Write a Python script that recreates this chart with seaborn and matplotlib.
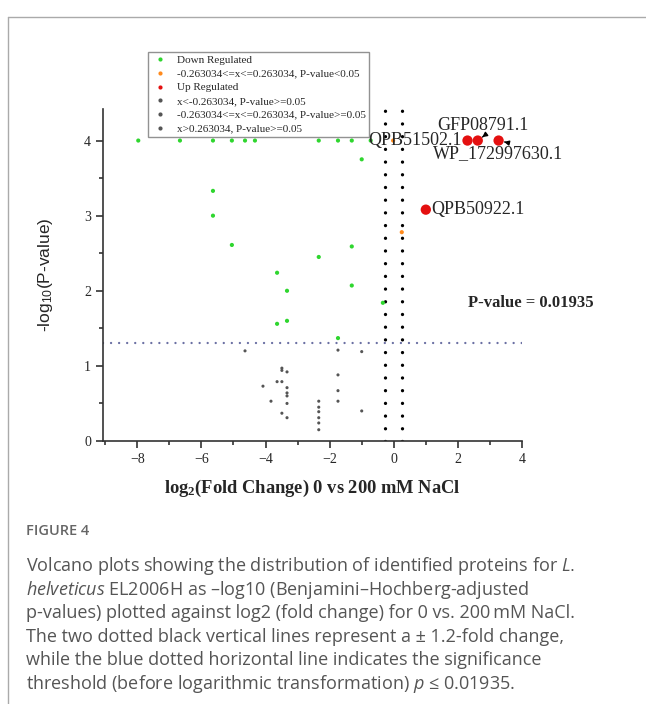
import matplotlib
matplotlib.use("Agg")
import matplotlib.pyplot as plt
import seaborn as sns
import pandas as pd
from matplotlib.lines import Line2D

# data
down_x = [-7.97, -6.67, -5.64, -5.05, -4.64, -4.33, -2.34, -1.74, -1.31, -0.72,
          -1.0, -5.64, -5.64, -5.05, -2.34, -1.31, -3.64, -3.33, -1.31, -0.34,
          -1.74, -3.64, -3.33]
down_y = [4, 4, 4, 4, 4, 4, 4, 4, 4, 4,
          3.75, 3.33, 3.0, 2.61, 2.45, 2.59, 2.24, 2.0, 2.07, 1.84,
          1.37, 1.56, 1.6]
mid_x = [-0.02, 0.25]
mid_y = [4.0, 2.78]
up_x = [2.3, 2.62, 3.27, 1.0]
up_y = [4.0, 4.0, 4.0, 3.08]
up_names = ["QPB51502.1", "GFP08791.1", "WP_172997630.1", "QPB50922.1"]
ns_x = [-4.64, -3.49, -3.49, -3.33, -4.08, -3.64, -3.49, -3.33, -3.33, -3.33,
        -3.33, -3.83, -3.49, -3.33, -2.34, -2.34, -2.34, -2.34, -2.34, -2.34,
        -1.74, -1.0, -1.74, -1.74, -1.74, -1.0]
ns_y = [1.2, 0.97, 0.94, 0.92, 0.73, 0.79, 0.79, 0.71, 0.64, 0.6,
        0.5, 0.53, 0.37, 0.31, 0.53, 0.45, 0.39, 0.31, 0.24, 0.15,
        1.21, 1.19, 0.88, 0.67, 0.53, 0.4]

fc = 0.263034
p_cut = 1.3
p_text = "P-value = 0.01935"

groups = ["Down Regulated",
          "-0.263034<=x<=0.263034, P-value<0.05",
          "Up Regulated",
          "x<-0.263034, P-value>=0.05",
          "-0.263034<=x<=0.263034, P-value>=0.05",
          "x>0.263034, P-value>=0.05"]
colors = ["#2fd62f", "#ff8a1c", "#e41010", "#555555", "#555555", "#555555"]

df = pd.concat([
    pd.DataFrame({"x": down_x, "y": down_y, "g": groups[0]}),
    pd.DataFrame({"x": mid_x, "y": mid_y, "g": groups[1]}),
    pd.DataFrame({"x": up_x, "y": up_y, "g": groups[2]}),
    pd.DataFrame({"x": ns_x, "y": ns_y, "g": groups[3]}),
])

sns.set_style("ticks")
plt.rcParams["mathtext.fontset"] = "custom"
plt.rcParams["mathtext.rm"] = "Liberation Sans"
plt.rcParams["mathtext.bf"] = "Liberation Serif:bold"
plt.rcParams["mathtext.it"] = "Open Sans:italic"
plt.rcParams["font.family"] = ["Liberation Serif", "DejaVu Sans"]

fig = plt.figure(figsize=(6.46, 7.04), dpi=100)
ax = fig.add_axes([103 / 646, 1 - 441 / 704, 419 / 646, 332 / 704])

sizes = {groups[0]: 9, groups[1]: 9, groups[2]: 55, groups[3]: 5}
for g, c in zip(groups, colors):
    sub = df[df["g"] == g]
    if len(sub):
        sns.scatterplot(data=sub, x="x", y="y", color=c, s=sizes[g],
                        edgecolor="none", ax=ax, legend=False, zorder=3)

# dotted threshold lines
ax.axvline(-fc, color="black", lw=2.4, ls=(0, (0.01, 3.8)), dash_capstyle="round", zorder=2)
ax.axvline(fc, color="black", lw=2.4, ls=(0, (0.01, 3.8)), dash_capstyle="round", zorder=2)
ax.axhline(p_cut, color="#6b70a3", lw=1.7, ls=(0, (0.01, 3.4)), dash_capstyle="round", zorder=2)
ax.text(2.3, 1.84, p_text, fontsize=12, fontweight="bold", ha="left", va="center",
        clip_on=False)

# protein labels
lab_kw = dict(fontsize=13, textcoords="offset points", annotation_clip=False)
arw = dict(arrowstyle="-|>", color="black", lw=1, mutation_scale=7, shrinkA=0, shrinkB=4)
ax.annotate(up_names[0], xy=(up_x[0], up_y[0]), xytext=(-4, 0), ha="right", va="center", **lab_kw)
ax.annotate(up_names[1], xy=(up_x[1], up_y[1]), xytext=(4, 11), ha="center", va="center",
            arrowprops=dict(relpos=(0.55, 0.05), **arw), **lab_kw)
ax.annotate(up_names[2], xy=(up_x[2], up_y[2]), xytext=(0, -9.5), ha="center", va="center",
            arrowprops=dict(relpos=(0.68, 0.95), **arw), **lab_kw)
ax.annotate(up_names[3], xy=(up_x[3], up_y[3]), xytext=(4, 0), ha="left", va="center", **lab_kw)

ax.set_xlim(-9.07, 4)
ax.set_ylim(0, 4.42)
ax.set_xticks([-8, -6, -4, -2, 0, 2, 4])
ax.set_xticks([-9, -7, -5, -3, -1, 1, 3], minor=True)
ax.set_yticks([0, 1, 2, 3, 4])
ax.set_yticks([0.5, 1.5, 2.5, 3.5], minor=True)
ax.tick_params(which="major", direction="out", length=5, width=1.2, labelsize=10,
               color="#333333")
ax.tick_params(which="minor", direction="out", length=3, width=1.2, color="#333333")
sns.despine(ax=ax)
for s in ["left", "bottom"]:
    ax.spines[s].set_linewidth(1.2)
    ax.spines[s].set_color("#333333")

ax.set_xlabel(r"log$\mathbf{_2}$(Fold Change) 0 vs 200 mM NaCl", fontsize=13.3,
              fontweight="bold", labelpad=9)
ax.set_ylabel(r"-log$_{10}$(P-value)", fontsize=12.5, family="Liberation Sans", labelpad=21)

handles = [Line2D([], [], ls="none", marker="o", ms=3, color=c, mec="none") for c in colors]
leg = fig.legend(handles, groups, loc="upper left", bbox_to_anchor=(148 / 646, 1 - 52 / 704),
                 bbox_transform=fig.transFigure, fontsize=8, frameon=True, fancybox=False,
                 borderpad=0.3, labelspacing=0.35, handletextpad=0.8, handlelength=1.5,
                 borderaxespad=0)
leg.get_frame().set_edgecolor("#777777")
leg.get_frame().set_linewidth(1)

# card frame and caption
x0, y0 = 8 / 646, 1 - 17 / 704
fig.add_artist(Line2D([x0, x0], [0, y0], color="#aaaaaa", lw=1, transform=fig.transFigure))
fig.add_artist(Line2D([x0, 1], [y0, y0], color="#aaaaaa", lw=1, transform=fig.transFigure))

cap_kw = dict(family="Open Sans", color="#555555", fontsize=13, ha="left", va="center")
fig.text(26 / 646, 1 - 531 / 704, "FIGURE 4", family="Open Sans", color="#666666",
         fontsize=10.5, fontweight="semibold", ha="left", va="center")
caption = [
    r"Volcano plots showing the distribution of identified proteins for $\mathit{L.}$",
    r"$\mathit{helveticus}$ EL2006H as –log10 (Benjamini–Hochberg-adjusted",
    "p-values) plotted against log2 (fold change) for 0 vs. 200\u2009mM NaCl.",
    "The two dotted black vertical lines represent a ± 1.2-fold change,",
    "while the blue dotted horizontal line indicates the significance",
    r"threshold (before logarithmic transformation) $p$ ≤ 0.01935.",
]
for i, line in enumerate(caption):
    fig.text(26 / 646, 1 - (566 + i * 23.6) / 704, line, **cap_kw)

fig.savefig("out.png", dpi=100)
